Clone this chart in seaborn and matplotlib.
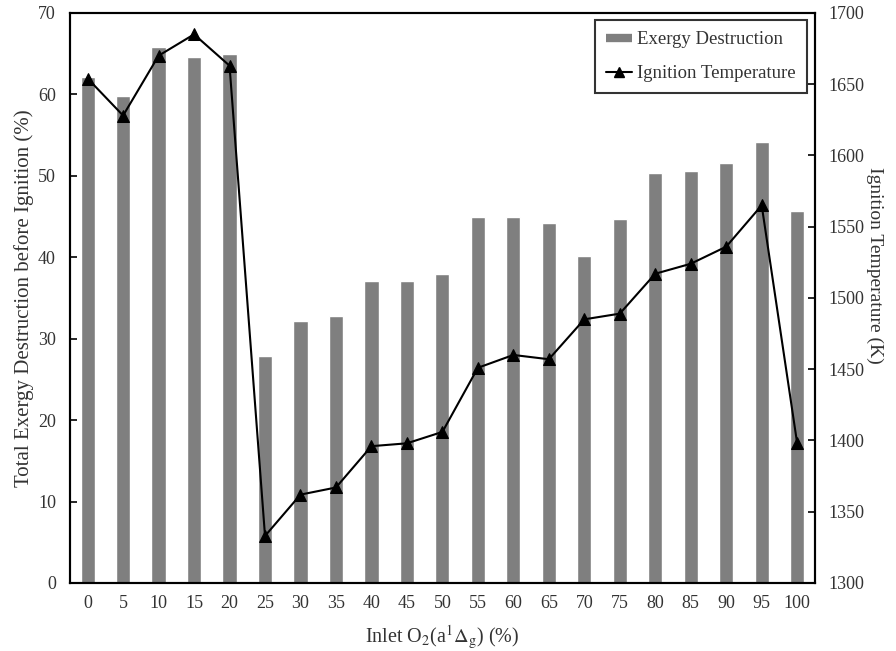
import numpy as np
import pandas as pd
import seaborn as sns
import matplotlib.pyplot as plt
from matplotlib.lines import Line2D

# Data
o2_levels = ["0", "5", "10", "15", "20", "25", "30", "35", "40", "45", "50",
             "55", "60", "65", "70", "75", "80", "85", "90", "95", "100"]
exergy_destruction = [62.1, 59.8, 65.8, 64.6, 64.9, 27.9, 32.2, 32.8, 37.1, 37.1, 37.9,
                      45.0, 45.0, 44.2, 40.2, 44.7, 50.3, 50.6, 51.6, 54.1, 45.7]
ignition_temp = [1654, 1628, 1670, 1685, 1663, 1333, 1362, 1367, 1396, 1398, 1406,
                 1451, 1460, 1457, 1485, 1489, 1517, 1524, 1536, 1565, 1398]

df = pd.DataFrame({"o2": o2_levels, "exergy": exergy_destruction, "temp": ignition_temp})
df["pos"] = np.arange(len(df))

sns.set_style("white")
plt.rcParams["font.family"] = ["Liberation Serif", "DejaVu Serif"]
plt.rcParams["mathtext.fontset"] = "stix"
plt.rcParams["font.size"] = 13

text_col = "#333333"
fig = plt.figure(figsize=(8.96, 6.51), dpi=100)
ax = fig.add_axes([0.078, 0.1045, 0.8315, 0.8756])

# Bars
sns.barplot(data=df, x="o2", y="exergy", color="#7f7f7f", saturation=1,
            width=0.4, ax=ax, order=o2_levels)
ax.set_ylim(0, 70)
ax.set_yticks(range(0, 71, 10))
ax.set_xlim(-0.5, len(o2_levels) - 0.5)
ax.set_xlabel("Inlet O$_2$(a$^1\\Delta_\\mathrm{g}$) (%)", fontsize=14.5, labelpad=8,
              color=text_col)
ax.set_ylabel("Total Exergy Destruction before Ignition (%)", fontsize=15, labelpad=3,
              color=text_col)

# Line on secondary axis
ax2 = ax.twinx()
sns.lineplot(data=df, x="pos", y="temp", color="black", marker="^",
             markersize=8.5, markeredgecolor="black", linewidth=1.5, ax=ax2)
ax2.set_ylim(1300, 1700)
ax2.set_yticks(range(1300, 1701, 50))
ax2.set_xlim(-0.5, len(o2_levels) - 0.5)
ax2.set_ylabel("Ignition Temperature (K)", fontsize=14, rotation=-90, labelpad=13,
               color=text_col)
ax2.yaxis.label.set_y(0.558)

for a in (ax, ax2):
    for s in a.spines.values():
        s.set_color("black")
        s.set_linewidth(1.5)
    a.tick_params(axis="y", labelsize=13, direction="in", length=5, width=1.2,
                  color="black", labelcolor=text_col, pad=10)
ax.tick_params(axis="x", labelsize=13, length=0, pad=9, labelcolor=text_col)
ax.tick_params(axis="y", left=True)
ax2.tick_params(axis="y", right=True)

handles = [Line2D([], [], color="#7f7f7f", linewidth=6, solid_capstyle="butt",
                  label="Exergy Destruction"),
           Line2D([], [], color="black", marker="^", markersize=6.5, linewidth=1.5,
                  label="Ignition Temperature")]
leg = ax2.legend(handles=handles, loc="upper right", bbox_to_anchor=(0.989, 0.988),
                 borderaxespad=0, fontsize=13.5, frameon=True, fancybox=False,
                 edgecolor="black", handlelength=1.4, handletextpad=0.25,
                 labelspacing=0.9, borderpad=0.6)
leg.get_frame().set_linewidth(1.5)
for t in leg.get_texts():
    t.set_color(text_col)

fig.savefig("out.png", dpi=100)
